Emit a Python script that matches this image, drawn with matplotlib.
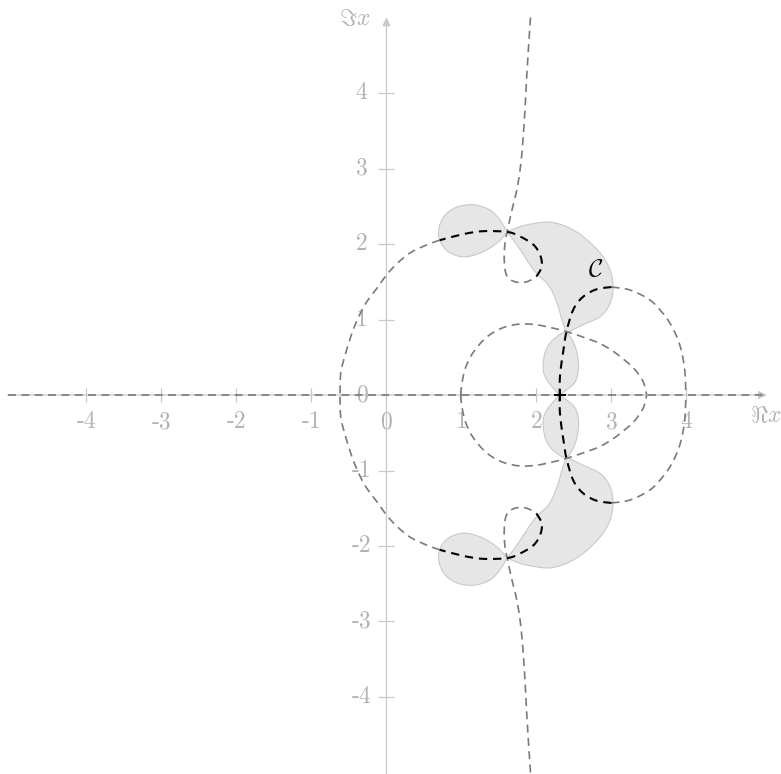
import matplotlib
matplotlib.use("Agg")
import matplotlib.pyplot as plt
from matplotlib.path import Path
from matplotlib.patches import PathPatch
import numpy as np

plt.rcParams["mathtext.fontset"] = "cm"

# ---- data (upper half plane; the picture is symmetric under conjugation) ----
# steepest-descent paths through the saddles (grey dashed)
path_vertical_loop = [(1.92, 5.0), (1.89, 4.55), (1.865, 4.13), (1.845, 3.75), (1.82, 3.38),
                      (1.80, 3.15), (1.77, 2.90), (1.73, 2.68), (1.69, 2.52), (1.65, 2.35),
                      (1.61, 2.16), (1.58, 2.01), (1.57, 1.79), (1.60, 1.59), (1.71, 1.50),
                      (1.87, 1.50), (2.00, 1.57)]
path_outer_left = [(0.71, 2.05), (0.54, 1.99), (0.31, 1.88), (0.14, 1.74), (0.0, 1.59),
                   (-0.13, 1.41), (-0.26, 1.24), (-0.35, 1.08), (-0.43, 0.90), (-0.49, 0.73),
                   (-0.56, 0.50), (-0.61, 0.29), (-0.62, 0.0)]
path_outer_right = [(3.00, 1.43), (3.25, 1.39), (3.51, 1.26), (3.67, 1.10), (3.78, 0.95),
                    (3.88, 0.75), (3.94, 0.55), (3.98, 0.30), (3.99, 0.0)]
path_inner_loop = [(0.99, 0.0), (1.00, 0.12), (1.05, 0.35), (1.16, 0.57), (1.34, 0.77),
                   (1.55, 0.89), (1.78, 0.94), (2.00, 0.93), (2.20, 0.89), (2.40, 0.84),
                   (2.67, 0.75), (2.85, 0.68), (3.05, 0.56), (3.29, 0.36), (3.42, 0.18),
                   (3.47, 0.0)]

# integration contour C (black dashed)
contour_upper = [(2.00, 1.57), (2.07, 1.70), (2.05, 1.85), (1.96, 1.99), (1.78, 2.10),
                 (1.61, 2.16), (1.29, 2.17), (1.02, 2.13), (0.71, 2.05)]
contour_middle = [(3.00, 1.43), (2.80, 1.40), (2.62, 1.30), (2.49, 1.13), (2.40, 0.84),
                  (2.36, 0.60), (2.33, 0.40), (2.31, 0.20), (2.31, 0.0)]

# shaded regions, each as a list of smooth arcs meeting at pointed corners
lobe_left = [
    [(1.61, 2.16), (1.51, 2.32), (1.38, 2.45), (1.16, 2.52), (0.94, 2.49),
     (0.78, 2.38), (0.70, 2.21), (0.71, 2.05), (0.82, 1.90), (1.02, 1.83),
     (1.25, 1.88), (1.47, 2.01), (1.61, 2.16)],
]
lobe_big = [
    [(1.61, 2.16), (1.78, 2.23), (1.96, 2.27), (2.18, 2.29), (2.40, 2.23),
     (2.62, 2.10), (2.85, 1.88), (2.98, 1.66), (3.02, 1.43), (2.98, 1.21),
     (2.85, 1.04), (2.62, 0.93), (2.40, 0.82)],
    [(2.40, 0.82), (2.34, 0.99), (2.29, 1.17), (2.22, 1.35), (2.14, 1.48),
     (2.00, 1.61), (1.87, 1.79), (1.76, 1.96), (1.61, 2.16)],
]
lobe_middle = [
    [(2.40, 0.84), (2.47, 0.74), (2.53, 0.60), (2.56, 0.42), (2.55, 0.27),
     (2.49, 0.14), (2.31, 0.0)],
    [(2.31, 0.0), (2.18, 0.14), (2.10, 0.28), (2.09, 0.42), (2.12, 0.58),
     (2.19, 0.70), (2.31, 0.80), (2.40, 0.84)],
]

saddle_real = (2.31, 0.0)
contour_label_pos = (2.79, 1.67)

ticks = [-4, -3, -2, -1, 1, 2, 3, 4]
tick_labels = ["-4", "-3", "-2", "-1", "0", "1", "2", "3", "4"]
label_values = [-4, -3, -2, -1, 0, 1, 2, 3, 4]

# ---- styles ----
AXIS_C = "#c8c8c8"
TICKLBL_C = "#b2b2b2"
GREY_DASH = "#7a7a7a"
FILL_C = "#e6e6e6"
EDGE_C = "#c9c9c9"
num_font = dict(family="cmr10", fontsize=17, color=TICKLBL_C)


def pts_array(pts, mirror=False):
    a = np.asarray(pts, dtype=float)
    if mirror:
        a = a * np.array([1.0, -1.0])
    return a


def smooth_segments(a):
    """Cubic Bezier pieces through the given points (Catmull-Rom tangents)."""
    n = len(a)
    verts, codes = [a[0]], [Path.MOVETO]
    for i in range(n - 1):
        p0 = a[i - 1] if i > 0 else a[i]
        p1, p2 = a[i], a[i + 1]
        p3 = a[i + 2] if i + 2 < n else a[i + 1]
        c1 = p1 + (p2 - p0) / 6.0
        c2 = p2 - (p3 - p1) / 6.0
        verts += [c1, c2, p2]
        codes += [Path.CURVE4] * 3
    return verts, codes


def smooth_path(pts, mirror=False):
    v, c = smooth_segments(pts_array(pts, mirror))
    return Path(v, c)


def smooth_region(arcs, mirror=False):
    verts, codes = [], []
    for k, arc in enumerate(arcs):
        v, c = smooth_segments(pts_array(arc, mirror))
        if k > 0:
            v, c = v[1:], c[1:]
        verts += v
        codes += c
    verts.append(verts[0])
    codes.append(Path.CLOSEPOLY)
    return Path(verts, codes)


fig = plt.figure(figsize=(7.81, 7.74), dpi=100)
ax = fig.add_axes([0, 0, 1, 1])
ax.set_xlim(-5.153, 5.26)
ax.set_ylim(-5.02, 5.232)
ax.axis("off")

# shaded lobes
for lobe in (lobe_left, lobe_big, lobe_middle):
    for m in (False, True):
        ax.add_patch(PathPatch(smooth_region(lobe, m), facecolor=FILL_C,
                               edgecolor=EDGE_C, lw=0.8, zorder=1))

# axes with arrows
ax.annotate("", xy=(5.07, 0), xytext=(-5.05, 0),
            arrowprops=dict(arrowstyle="-|>", color=AXIS_C, lw=0.9,
                            mutation_scale=12, shrinkA=0, shrinkB=0), zorder=2)
ax.annotate("", xy=(0, 5.0), xytext=(0, -5.02),
            arrowprops=dict(arrowstyle="-|>", color=AXIS_C, lw=0.9,
                            mutation_scale=12, shrinkA=0, shrinkB=0), zorder=2)
ax.plot(ticks, [0] * len(ticks), ls="none", marker="|", ms=10, mew=0.9,
        color=AXIS_C, zorder=2)
ax.plot([0] * len(ticks), ticks, ls="none", marker="_", ms=11, mew=0.9,
        color=AXIS_C, zorder=2)

for v, s in zip(label_values, tick_labels):
    ax.text(v, -0.36, s, ha="center", va="center", **num_font, zorder=2)
    ax.text(-0.33, v, s, ha="center", va="center", **num_font, zorder=2)

ax.text(5.05, -0.27, r"$\Re x$", ha="center", va="center", fontsize=17,
        color=TICKLBL_C, zorder=2)
ax.text(-0.42, 5.0, r"$\Im x$", ha="center", va="center", fontsize=17,
        color=TICKLBL_C, zorder=2)

# grey dashed paths
grey_kw = dict(color=GREY_DASH, lw=1.2, ls=(0, (4.8, 3.2)))
ax.plot([-5.05, 5.05], [0, 0], zorder=3, **grey_kw)
for p in (path_vertical_loop, path_outer_left, path_outer_right, path_inner_loop):
    for m in (False, True):
        ax.add_patch(PathPatch(smooth_path(p, m), fill=False, zorder=3, **grey_kw))

# contour C
black_kw = dict(color="black", lw=1.5, ls=(0, (4.0, 2.8)))
for p in (contour_upper, contour_middle):
    for m in (False, True):
        ax.add_patch(PathPatch(smooth_path(p, m), fill=False, zorder=4, **black_kw))
ax.plot(*saddle_real, marker="+", ms=8, mew=1.4, color="black", zorder=5)

ax.text(*contour_label_pos, r"$\mathcal{C}$", ha="center", va="center",
        fontsize=18, color="black", zorder=5)

fig.savefig("out.png", dpi=100)
